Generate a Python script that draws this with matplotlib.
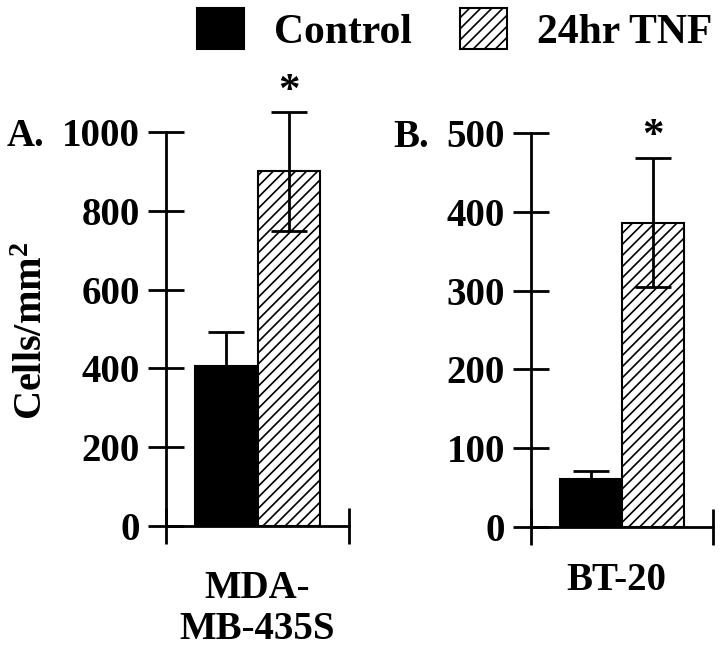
import numpy as np
import matplotlib
matplotlib.use("Agg")
import matplotlib.pyplot as plt
import matplotlib.transforms as mtransforms

plt.rcParams["font.family"] = ["Liberation Serif", "DejaVu Serif"]
plt.rcParams["font.weight"] = "bold"
plt.rcParams["axes.labelweight"] = "bold"
plt.rcParams["mathtext.fontset"] = "custom"
plt.rcParams["mathtext.rm"] = "Liberation Serif:bold"
plt.rcParams["mathtext.it"] = "Liberation Serif:bold"
plt.rcParams["mathtext.bf"] = "Liberation Serif:bold"
plt.rcParams["mathtext.default"] = "rm"
plt.rcParams["hatch.linewidth"] = 1.2

# data
groups = ["Control", "24hr TNF"]
cell_lines = ["MDA-\nMB-435S", "BT-20"]
panel_tags = ["A.", "B."]
means_a = [405, 900]
errs_a = [87, 150]
means_b = [61, 386]
errs_b = [10, 82]
yticks_a = [0, 200, 400, 600, 800, 1000]
yticks_b = [0, 100, 200, 300, 400, 500]
star_a = 1076
star_b = 482

fig = plt.figure(figsize=(7.2, 6.52), dpi=100)
ax_a = fig.add_axes([166 / 720, 1 - 526 / 652, 183 / 720, 394 / 652])
ax_b = fig.add_axes([531 / 720, 1 - 527 / 652, 182 / 720, 394 / 652])

x = np.arange(len(groups))
xlim = (-0.96, 1.96)
lw = 2.0
handles = None

for ax, means, errs, ticks, tag, name, star in [
        (ax_a, means_a, errs_a, yticks_a, panel_tags[0], cell_lines[0], star_a),
        (ax_b, means_b, errs_b, yticks_b, panel_tags[1], cell_lines[1], star_b)]:
    bars = ax.bar(x, means, width=1.0, color=["black", "white"],
                  edgecolor="black", linewidth=1.5)
    bars[1].set_hatch("///")
    bars[0].set_label(groups[0])
    bars[1].set_label(groups[1])
    if handles is None:
        handles = [bars[0], bars[1]]
    eb = ax.errorbar(x, means, yerr=errs, fmt="none", ecolor="black",
                     elinewidth=lw, capsize=13, capthick=lw)
    for art in eb.lines[1] + eb.lines[2]:
        art.set_clip_on(False)

    ax.set_xlim(*xlim)
    ax.set_ylim(ticks[0], ticks[-1])
    ax.set_yticks(ticks)
    ax.set_yticklabels([str(t) for t in ticks], fontsize=28)
    ax.set_xticks(list(xlim))
    ax.set_xticklabels(["", ""])
    ax.tick_params(axis="both", direction="inout", length=26.5, width=lw, pad=5.4)
    for s in ["top", "right"]:
        ax.spines[s].set_visible(False)
    for s in ["left", "bottom"]:
        ax.spines[s].set_linewidth(lw)

    ax.set_xlabel(name, fontsize=28, fontweight="bold", linespacing=1.15, labelpad=13)
    ax.text(1, star, "*", fontsize=31, ha="center", va="baseline", clip_on=False)

    trans = mtransforms.blended_transform_factory(ax.transAxes, ax.transData)
    left_px = 7 if ax is ax_a else 393
    ax0 = 166 if ax is ax_a else 531
    wpx = 183 if ax is ax_a else 182
    ax.text((left_px - ax0) / wpx, ticks[-1], tag, transform=trans, fontsize=28,
            ha="left", va="center_baseline")

ax_b.xaxis.set_label_coords(0.47, -0.09)

ax_a.text(-0.732, 0.495, "Cells/mm$^2$", transform=ax_a.transAxes, rotation=90,
          fontsize=29, ha="center", va="center")

fig.legend(handles=handles, labels=groups, loc="upper left",
           bbox_to_anchor=(197 / 720, 1 - 8 / 652), ncol=2, frameon=False,
           fontsize=30, handlelength=1.13, handleheight=1.13,
           handletextpad=0.72, columnspacing=1.15, borderpad=0, borderaxespad=0)

fig.savefig("out.png", dpi=100)
